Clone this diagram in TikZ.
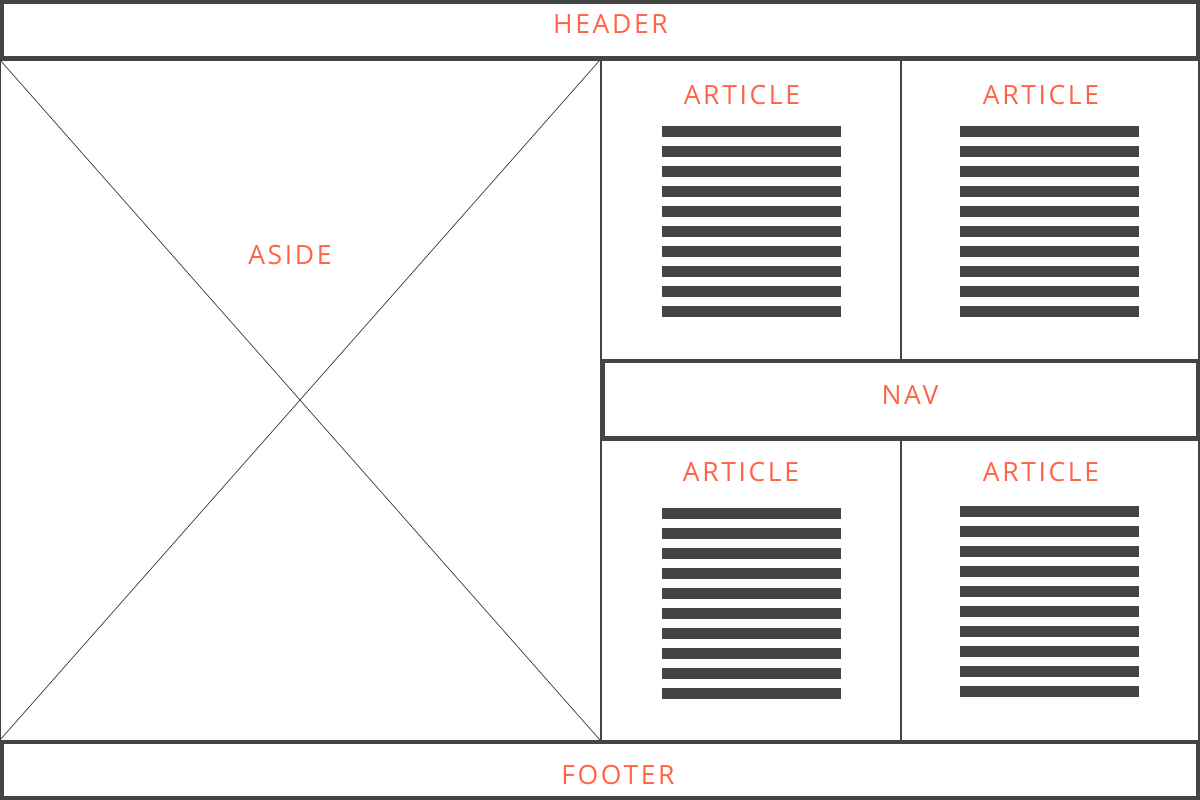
\documentclass[tikz,border=0pt]{standalone}
\usepackage{fontspec}
\setmainfont{Open Sans}[LetterSpace=10]
\definecolor{frame}{RGB}{68,68,68}
\definecolor{lbl}{RGB}{255,100,72}
\tikzset{
  thick frame/.style={draw=frame, line width=4pt},
  thin frame/.style={draw=frame, line width=2pt},
  cross/.style={draw=frame!85!black, line width=0.7pt},
  bar/.style={fill=frame, draw=none},
  lab/.style={text=lbl, inner sep=0pt, anchor=base, font=\fontsize{26.5}{26.5}\selectfont},
}
\newcommand{\textbars}[2]{%
  \foreach \i in {0,...,9} {
    \fill[bar] (#1,#2+20*\i) rectangle (#1+179,#2+20*\i+11);
  }%
}
\begin{document}
\begin{tikzpicture}[x=1pt,y=-1pt]
\useasboundingbox (0,0) rectangle (1200,800);
\fill[white] (0,0) rectangle (1200,800);
% aside
\draw[thin frame] (0,60) rectangle (601,741);
\draw[cross] (0,60) -- (600,740);
\draw[cross] (0,740) -- (600,60);
% articles
\draw[thin frame] (601,60) rectangle (901,360);
\draw[thin frame] (901,60) rectangle (1199,360);
\draw[thin frame] (601,440) rectangle (901,741);
\draw[thin frame] (901,440) rectangle (1199,741);
% header, nav, footer
\draw[thick frame, fill=white] (2,2) rectangle (1198,58.5);
\draw[thick frame, line width=4.5pt, fill=white] (602.5,361) rectangle (1198,438.5);
\draw[thick frame, line width=3.6pt, fill=white] (2,741.8) rectangle (1198,798.2);
% text bars
\textbars{662}{126}
\textbars{960}{126}
\textbars{662}{508}
\textbars{960}{506}
% labels
\node[lab] (header) at (610.5,34) {HEADER};
\node[lab] (aside) at (290,264.5) {ASIDE};
\node[lab] (art1) at (742,104) {ARTICLE};
\node[lab] (art2) at (1041,104) {ARTICLE};
\node[lab] (nav) at (910,404.5) {NAV};
\node[lab] (art3) at (741,481.5) {ARTICLE};
\node[lab] (art4) at (1041,481.5) {ARTICLE};
\node[lab] (footer) at (618,784.5) {FOOTER};
\end{tikzpicture}
\end{document}
